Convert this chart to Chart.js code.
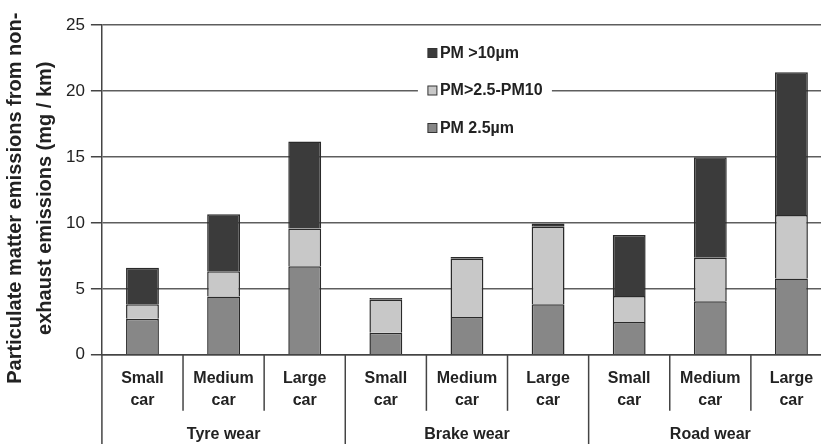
<!DOCTYPE html>
<html>
<head>
<meta charset="utf-8">
<script src="https://cdn.jsdelivr.net/npm/chart.js@4"></script>
<style>
  html, body { margin: 0; padding: 0; background: #fff; overflow: hidden; }
  #wrap { position: relative; width: 832px; height: 444px; }
</style>
</head>
<body>
<div id="wrap"><canvas id="pmChart"></canvas></div>
<script>
    // values (mg / km)
    const carLabels = [['Small', 'car'], ['Medium', 'car'], ['Large', 'car'],
                       ['Small', 'car'], ['Medium', 'car'], ['Large', 'car'],
                       ['Small', 'car'], ['Medium', 'car'], ['Large', 'car']];
    const groupLabels = ['Tyre wear', 'Brake wear', 'Road wear'];
    const pm25 =     [2.74, 4.41, 6.72, 1.67, 2.87, 3.83, 2.49, 4.06, 5.78];
    const pm25to10 = [1.09, 1.93, 2.86, 2.51, 4.41, 5.88, 1.97, 3.29, 4.82];
    const pm10 =     [2.77, 4.31, 6.59, 0.13, 0.13, 0.25, 4.62, 7.63, 10.82];
    const yTicks = [0, 5, 10, 15, 20, 25];

    const FONT = '"Liberation Sans", Arial, Helvetica, sans-serif';

    // vertical separators under the x axis: short between cars, full between groups
    const separators = {
        id: 'separators',
        afterDraw(chart) {
            const c = chart.ctx;
            const xs = chart.scales.x;
            const n = carLabels.length;
            const w = xs.width / n;
            c.save();
            c.strokeStyle = '#444';
            c.lineWidth = 1.5;
            for (let i = 0; i <= n; i++) {
                const px = xs.left + i * w;
                const full = i % 3 === 0;
                c.beginPath();
                c.moveTo(px, xs.top);
                c.lineTo(px, full ? chart.height : xs.top + 56);
                c.stroke();
            }
            c.restore();
        }
    };

    // legend drawn inside the plot, top-middle, on a white patch
    const innerLegend = {
        id: 'innerLegend',
        afterDraw(chart) {
            const c = chart.ctx;
            const a = chart.chartArea;
            const x0 = a.left + 316, y0 = a.top + 11;
            c.save();
            c.fillStyle = '#fff';
            c.fillRect(x0, y0, 134, 110);
            const sets = chart.data.datasets.slice().reverse();
            c.font = 'bold 16px ' + FONT;
            c.textBaseline = 'middle';
            sets.forEach((ds, i) => {
                const y = a.top + 28 + i * 37.5;
                c.fillStyle = ds.backgroundColor;
                c.fillRect(x0 + 10, y - 4.5, 9, 9);
                c.strokeStyle = '#333';
                c.lineWidth = 1;
                c.strokeRect(x0 + 10, y - 4.5, 9, 9);
                c.fillStyle = '#222';
                c.fillText(ds.label, x0 + 22, y + 0.5);
            });
            c.restore();
        }
    };

    const ctx = document.getElementById('pmChart').getContext('2d');
    new Chart(ctx, {
        type: 'bar',
        data: {
            labels: carLabels,
            datasets: [
                { label: 'PM 2.5\u00b5m', data: pm25, backgroundColor: '#878787' },
                { label: 'PM>2.5-PM10', data: pm25to10, backgroundColor: '#c8c8c8' },
                { label: 'PM >10\u00b5m', data: pm10, backgroundColor: '#3b3b3b' }
            ].map(d => Object.assign(d, {
                borderColor: '#2a2a2a',
                borderWidth: 1.5,
                categoryPercentage: 1,
                barPercentage: 0.405
            }))
        },
        options: {
            responsive: true,
            maintainAspectRatio: false,
            animation: false,
            layout: { padding: { top: 25, left: 0, right: 0, bottom: 0 } },
            plugins: {
                legend: { display: false },
                tooltip: { enabled: false }
            },
            scales: {
                x: {
                    stacked: true,
                    grid: { display: false, drawTicks: false },
                    border: { color: '#444', width: 1.5 },
                    ticks: {
                        padding: 13,
                        autoSkip: false,
                        maxRotation: 0,
                        color: '#222',
                        font: { family: FONT, size: 16, weight: 'bold', lineHeight: 1.375 }
                    }
                },
                x2: {
                    type: 'category',
                    labels: groupLabels,
                    position: 'bottom',
                    grid: { display: false, drawTicks: false },
                    border: { display: false },
                    ticks: {
                        padding: 0,
                        maxRotation: 0,
                        color: '#222',
                        font: { family: FONT, size: 16, weight: 'bold', lineHeight: 1.2 }
                    }
                },
                y: {
                    stacked: true,
                    min: 0,
                    max: 25,
                    afterBuildTicks: (s) => { s.ticks = yTicks.map(v => ({ value: v })); },
                    grid: {
                        color: '#5e5e5e',
                        lineWidth: 1.5,
                        tickLength: 11,
                        tickColor: '#444',
                        tickWidth: 1.5
                    },
                    border: { color: '#444', width: 1.5 },
                    ticks: {
                        padding: 6,
                        color: '#222',
                        font: { family: FONT, size: 17 }
                    },
                    title: {
                        display: true,
                        // trailing spaces nudge the rotated text down, as in the original
                        text: ['Particulate matter emissions from non-   ', 'exhaust emissions (mg / km)   '],
                        color: '#222',
                        padding: 0,
                        font: { family: FONT, size: 20, weight: 'bold', lineHeight: 1.5 }
                    }
                }
            }
        },
        plugins: [separators, innerLegend]
    });
</script>
</body>
</html>
